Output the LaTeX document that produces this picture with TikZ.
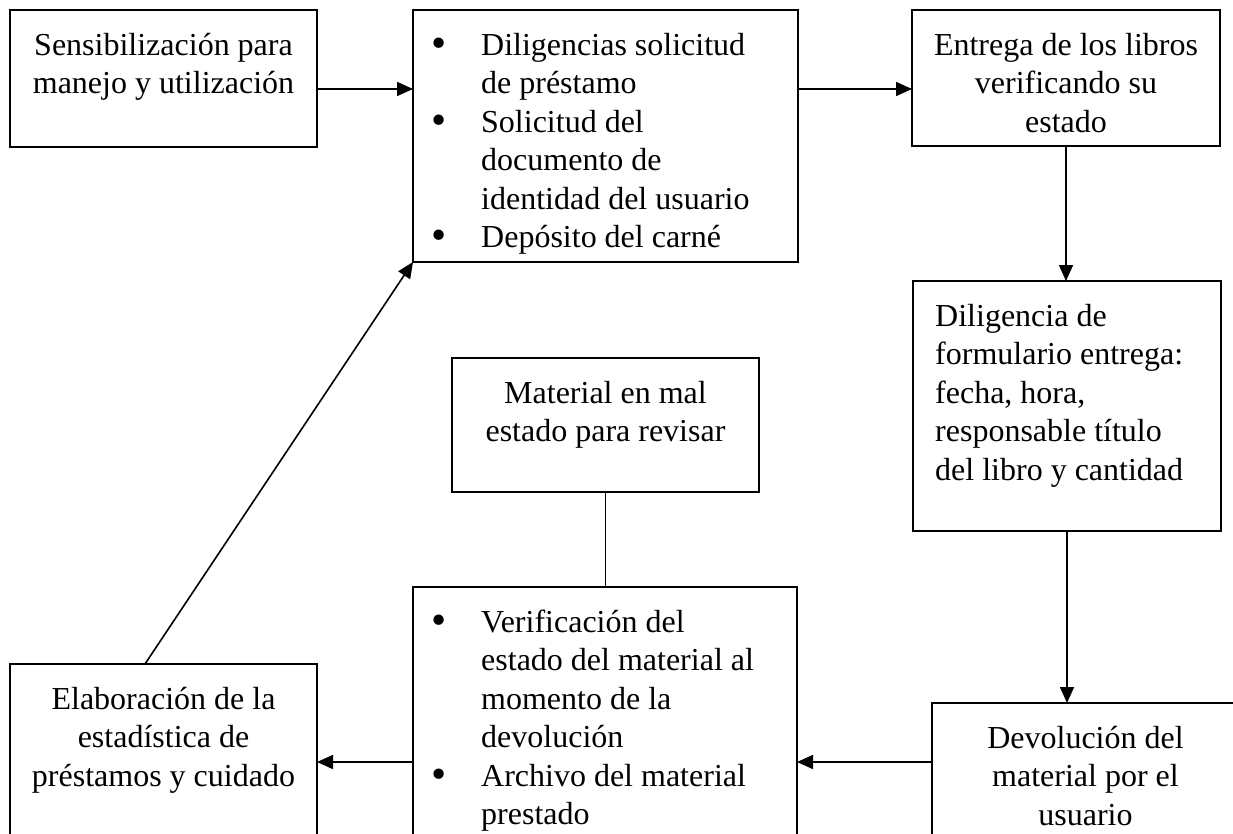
\documentclass[tikz,border=0pt]{standalone}
\usepackage{fontspec}
\setmainfont{Liberation Serif}
\usetikzlibrary{arrows.meta}

\newcommand{\vineta}{\makebox[48pt][l]{\hspace{-2pt}\raisebox{-2pt}{\scalebox{1.35}{\textbullet}}}}
\newcommand{\sangria}{\hspace*{48pt}}

\begin{document}
\begin{tikzpicture}[x=1pt,y=1pt,yscale=-1,
	caja/.style={draw, line width=2pt, inner sep=0pt, outer sep=0pt, anchor=north west},
	texto/.style={inner sep=0pt, font=\fontsize{32}{38.5}\selectfont, anchor=north},
	flecha/.style={line width=1.6pt, -{Triangle[length=16pt,width=14pt]}}]
	\useasboundingbox (0,0) rectangle (1233,834);
	\clip (0,0) rectangle (1233,834);
	
	%Shape: Rectangle [sensibilizacion]
	\draw (10,10) node [caja, minimum width=307pt, minimum height=137pt] (sens) {};
	%Shape: Rectangle [solicitud]
	\draw (413,10) node [caja, minimum width=385pt, minimum height=252pt] (solic) {};
	%Shape: Rectangle [entrega]
	\draw (912,10) node [caja, minimum width=308pt, minimum height=136pt] (entrega) {};
	%Shape: Rectangle [formulario]
	\draw (913,281) node [caja, minimum width=308pt, minimum height=250pt] (formu) {};
	%Shape: Rectangle [mal estado]
	\draw (452,358) node [caja, minimum width=307pt, minimum height=134pt] (malest) {};
	%Shape: Rectangle [verificacion]
	\draw (413,587) node [caja, minimum width=384pt, minimum height=270pt] (verif) {};
	%Shape: Rectangle [estadistica]
	\draw (10,664) node [caja, minimum width=307pt, minimum height=200pt] (estad) {};
	%Shape: Rectangle [devolucion]
	\draw (932,703) node [caja, minimum width=307pt, minimum height=200pt] (devol) {};
	
	\coordinate (fila1) at (0,89);
	\coordinate (fila3) at (0,762);
	
	%Straight Lines
	\draw [flecha] (sens.east |- fila1) -- (solic.west |- fila1);
	%Straight Lines
	\draw [flecha] (solic.east |- fila1) -- (entrega.west |- fila1);
	%Straight Lines
	\draw [flecha] (entrega.south) -- (entrega.south |- formu.north);
	%Straight Lines
	\draw [flecha] (formu.south) -- (formu.south |- devol.north);
	%Straight Lines
	\draw [flecha] (devol.west |- fila3) -- (verif.east |- fila3);
	%Straight Lines
	\draw [flecha] (verif.west |- fila3) -- (estad.east |- fila3);
	%Straight Lines
	\draw [line width=1.8pt] (malest.south) -- (malest.south |- verif.north);
	%Straight Lines
	\draw [flecha] ([xshift=-18.5pt]estad.north) -- (solic.south west);
	
	% Text Node
	\node [texto, align=center] (sens-t) at ([yshift=18pt]sens.north) {\strut Sensibilización para\\manejo y utilización};
	% Text Node
	\node [texto, anchor=north west, align=left] (solic-t) at ([shift={(20pt,18pt)}]solic.north west) {\strut\vineta Diligencias solicitud\\\sangria de préstamo\\\vineta Solicitud del\\\sangria documento de\\\sangria identidad del usuario\\\vineta Depósito del carné};
	% Text Node
	\node [texto, align=center] (entrega-t) at ([yshift=18pt]entrega.north) {\strut Entrega de los libros\\verificando su\\estado};
	% Text Node
	\node [texto, anchor=north west, align=left] (formu-t) at ([shift={(22pt,18pt)}]formu.north west) {\strut Diligencia de\\formulario entrega:\\fecha, hora,\\responsable título\\del libro y cantidad};
	% Text Node
	\node [texto, align=center] (malest-t) at ([yshift=18pt]malest.north) {\strut Material en mal\\estado para revisar};
	% Text Node
	\node [texto, anchor=north west, align=left] (verif-t) at ([shift={(20pt,18pt)}]verif.north west) {\strut\vineta Verificación del\\\sangria estado del material al\\\sangria momento de la\\\sangria devolución\\\vineta Archivo del material\\\sangria prestado};
	% Text Node
	\node [texto, align=center] (estad-t) at ([yshift=18pt]estad.north) {\strut Elaboración de la\\estadística de\\préstamos y cuidado};
	% Text Node
	\node [texto, align=center] (devol-t) at ([yshift=18pt]devol.north) {\strut Devolución del\\material por el\\usuario};
	
\end{tikzpicture}
\end{document}
